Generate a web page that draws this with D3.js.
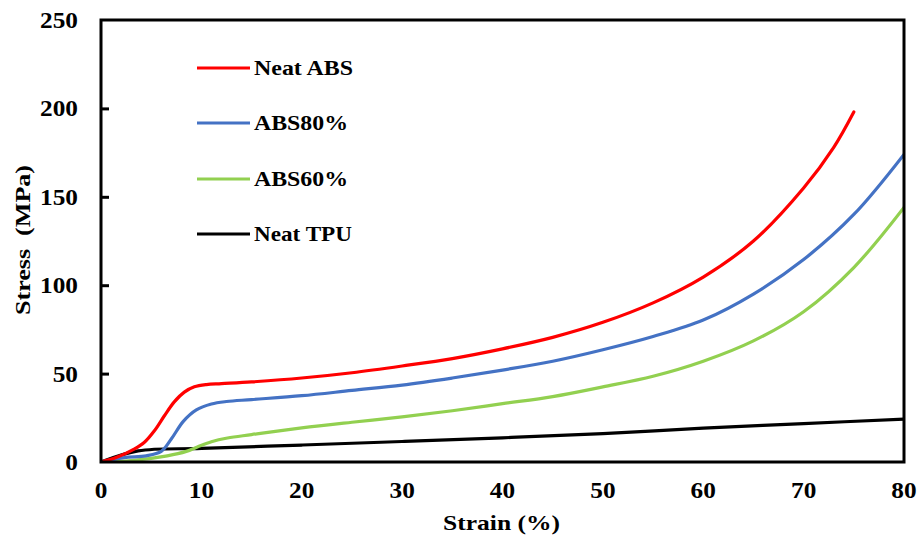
<!DOCTYPE html>
<html><head><meta charset="utf-8">
<script src="https://cdn.jsdelivr.net/npm/d3@7"></script>
<style>body{margin:0;background:#fff}svg{display:block}text{font-family:"Liberation Serif","Times New Roman",serif;font-weight:bold;fill:#000}</style>
</head><body><svg id="c" width="917" height="536"></svg>
<script>
const seriesNames = ["Neat ABS", "ABS80%", "ABS60%", "Neat TPU"];
const seriesColors = ["#ff0000", "#4472c4", "#92d050", "#000000"];
const neatABS = [[0,0],[1.5,2.5],[3.3,7.3],[4.3,11],[5.3,17.5],[6.3,26],[7.3,34],[8.3,39.5],[9.3,42.5],[10.5,43.8],[12,44.3],[15,45.3],[20,47.5],[25,50.5],[30,54.3],[35,58.5],[40,64],[45,70.5],[50,79],[55,90],[60,104.6],[65,125],[70,155],[73,178],[75,198]];
const abs80 = [[0,0],[2.3,2.5],[4.5,3.5],[6,6],[7,13],[8.2,23],[9.5,29.5],[11,32.8],[12.5,34.2],[15,35.3],[20,37.5],[25,40.5],[30,43.5],[35,47.5],[40,52],[45,57],[50,63.5],[55,71],[60,80.3],[65,95],[70,114.5],[75,140],[80,174]];
const abs60 = [[0,0],[3,0.8],[6.6,3.5],[8.5,6],[9.6,8.5],[11,11.5],[12.6,13.6],[15,15.5],[20,19.3],[25,22.5],[30,25.5],[35,29],[40,33],[45,37],[50,42.5],[55,48.5],[60,57],[65,68.5],[70,85],[75,110],[80,144]];
const neatTPU = [[0,0],[3.7,6.3],[10,7.7],[20,9.6],[30,11.6],[40,13.7],[50,16],[60,19.2],[70,21.7],[80,24.3]];
const xTicks = [0,10,20,30,40,50,60,70,80];
const yTicks = [0,50,100,150,200,250];
const series = [neatABS, abs80, abs60, neatTPU];

const svg = d3.select("#c");
const L=101, R=904, T=20, B=462;
const x = d3.scaleLinear().domain([0,80]).range([L,R]);
const y = d3.scaleLinear().domain([0,250]).range([B,T]);
const SX = 1.1;

const ya = svg.append("g").attr("transform",`translate(${L},0)`)
  .call(d3.axisRight(y).tickValues(yTicks.filter(v=>v>0&&v<250)).tickSize(8).tickFormat(""));
ya.select(".domain").remove();
ya.selectAll("line").attr("stroke","#000").attr("stroke-width",3);

svg.append("g").selectAll("text").data(yTicks).join("text")
  .attr("transform",d=>`translate(${L-23},${y(d)}) scale(${SX},1)`).attr("dy","0.35em").attr("text-anchor","end")
  .attr("font-size",23).text(d=>d);
svg.append("g").selectAll("text").data(xTicks).join("text")
  .attr("transform",d=>`translate(${x(d)},498) scale(${SX},1)`).attr("text-anchor","middle")
  .attr("font-size",23).text(d=>d);

svg.append("text").attr("x",443).attr("y",530).attr("font-size",22)
  .attr("textLength",117).attr("lengthAdjust","spacingAndGlyphs").text("Strain (%)");
svg.append("text").attr("transform","translate(30,315) rotate(-90)").attr("font-size",22)
  .attr("textLength",150).attr("lengthAdjust","spacingAndGlyphs").attr("xml:space","preserve").text("Stress  (MPa)");

const line = d3.line().x(d=>x(d[0])).y(d=>y(d[1])).curve(d3.curveCatmullRom.alpha(0.5));
svg.append("clipPath").attr("id","cp").append("rect").attr("x",L).attr("y",T).attr("width",R-L).attr("height",B-T);
svg.append("g").attr("clip-path","url(#cp)").selectAll("path").data(series.slice().reverse()).join("path")
  .attr("d",line).attr("fill","none")
  .attr("stroke",(d,i)=>seriesColors[3-i]).attr("stroke-width",3.2).attr("stroke-linecap","round");

svg.append("rect").attr("x",L).attr("y",T).attr("width",R-L).attr("height",B-T)
  .attr("fill","none").attr("stroke","#000").attr("stroke-width",3);

const lg = svg.append("g");
const ly = [68,123,179,234];
const lw = [99, 94, 94, 98];
seriesNames.forEach((n,i)=>{
  lg.append("line").attr("x1",197).attr("x2",250).attr("y1",ly[i]).attr("y2",ly[i]).attr("stroke",seriesColors[i]).attr("stroke-width",3);
  lg.append("text").attr("x",254).attr("y",ly[i]).attr("dy","0.35em").attr("font-size",21)
    .attr("textLength",lw[i]).attr("lengthAdjust","spacingAndGlyphs").text(n);
});
</script></body></html>
